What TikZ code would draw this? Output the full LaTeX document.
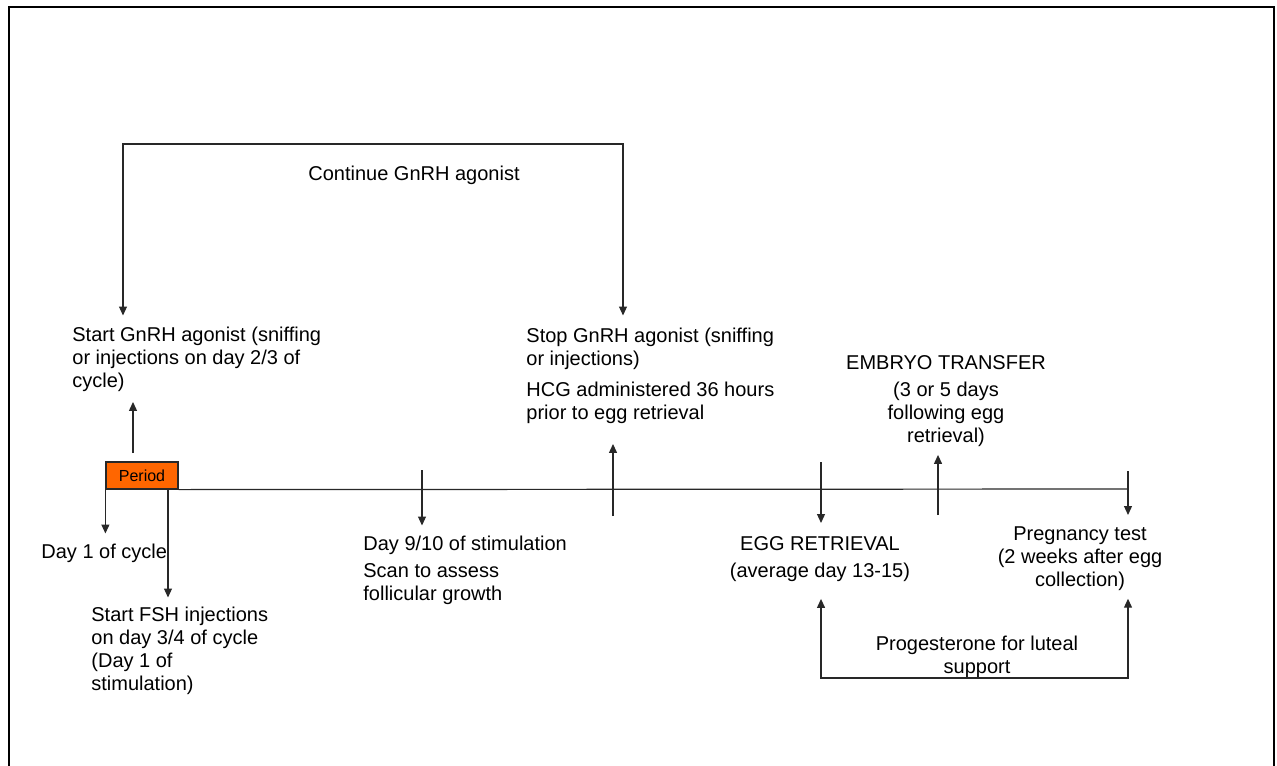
\documentclass[tikz,border=0pt]{standalone}
\usepackage{fontspec}
\setmainfont{Liberation Sans}
\usepackage{xcolor}
\definecolor{ivforange}{RGB}{255,102,0}
\definecolor{ivfline}{RGB}{40,40,40}
\usetikzlibrary{arrows.meta,positioning}
\tikzset{
  >={Triangle[length=4.5pt,width=4pt]},
  lbl/.style={inner sep=0pt, font=\fontsize{10}{11.5}\selectfont, align=left, anchor=north west},
  clbl/.style={lbl, align=center, anchor=north},
  arr/.style={->, line width=0.6pt, draw=ivfline},
}

\begin{document}
\begin{tikzpicture}[x=0.5pt, y=-0.5pt]
    \useasboundingbox (0,0) rectangle (1277,765);
    % Frame (open at the bottom)
    \draw[line width=1pt] (9,770) -- (9,7) -- (1274,7) -- (1274,770);

    % Period box and time line
    \node[draw=ivfline, line width=0.6pt, fill=ivforange, minimum width=36pt, minimum height=13.5pt, inner sep=0pt, font=\fontsize{8}{9}\selectfont] (period) at (142,475.5) {Period};
    \coordinate (tend) at (1128,489);
    \draw[line width=0.6pt, ivfline] (period.south east) -- (tend);

    % Labels above the line
    \node[lbl] (startg) at (72,326.5) {Start GnRH agonist (sniffing\\or injections on day 2/3 of\\cycle)};
    \node[lbl] (stopg) at (526,327.5) {Stop GnRH agonist (sniffing\\or injections)};
    \node[lbl] (hcg) at (526,381.5) {HCG administered 36 hours\\prior to egg retrieval};
    \node[clbl] (embryo) at (946,355) {EMBRYO TRANSFER\\[2pt](3 or 5 days\\following egg\\retrieval)};
    \node[clbl] (cont) at (414,166) {Continue GnRH agonist};

    % Labels below the line
    \node[lbl] (day1) at (41,543.5) {Day 1 of cycle};
    \node[lbl] (fsh) at (91,606.5) {Start FSH injections\\on day 3/4 of cycle\\(Day 1 of\\stimulation)};
    \node[lbl] (day9) at (363,535.5) {Day 9/10 of stimulation\\[2pt]Scan to assess\\follicular growth};
    \node[clbl] (egg) at (820,536) {EGG RETRIEVAL\\[2pt](average day 13-15)};
    \node[clbl] (preg) at (1080,526) {Pregnancy test\\(2 weeks after egg\\collection)};
    \node[clbl] (prog) at (977,636) {Progesterone for luteal\\support};

    % Foot points of the arrows
    \coordinate (ctl) at (123,144);
    \coordinate (ctr) at (623,144);
    \coordinate (pup) at (133,453);
    \coordinate (fshfoot) at (168,489);
    \coordinate (dfoot) at (422,470);
    \coordinate (hfoot) at (613,516);
    \coordinate (efoot) at (821,462);
    \coordinate (tfoot) at (938,515);
    \coordinate (pfoot) at (1128,471);
    \coordinate (pl) at (821,678);
    \coordinate (pr) at (1128,678);

    % Arrows
    \draw[arr, <->, shorten <=5.5pt, shorten >=6pt] (ctl |- startg.north) -- (ctl) -- (ctr) -- (ctr |- stopg.north);
    \draw[arr, shorten >=5pt] (pup) -- (pup |- startg.south);
    \draw[arr, shorten >=5pt] (period.south west) -- (period.south west |- day1.north);
    \draw[arr, shorten >=4.5pt] (fshfoot) -- (fshfoot |- fsh.north);
    \draw[arr, shorten >=5pt] (dfoot) -- (dfoot |- day9.north);
    \draw[arr, shorten >=10pt] (hfoot) -- (hfoot |- hcg.south);
    \draw[arr, shorten >=6.5pt] (efoot) -- (efoot |- egg.north);
    \draw[arr, shorten >=4pt] (tfoot) -- (tfoot |- embryo.south);
    \draw[arr, shorten >=5.5pt] (pfoot) -- (pfoot |- preg.north);
    \draw[arr, <->, shorten <=8.5pt, shorten >=4pt] (pl |- egg.south) -- (pl) -- (pr) -- (pr |- preg.south);
\end{tikzpicture}
\end{document}
